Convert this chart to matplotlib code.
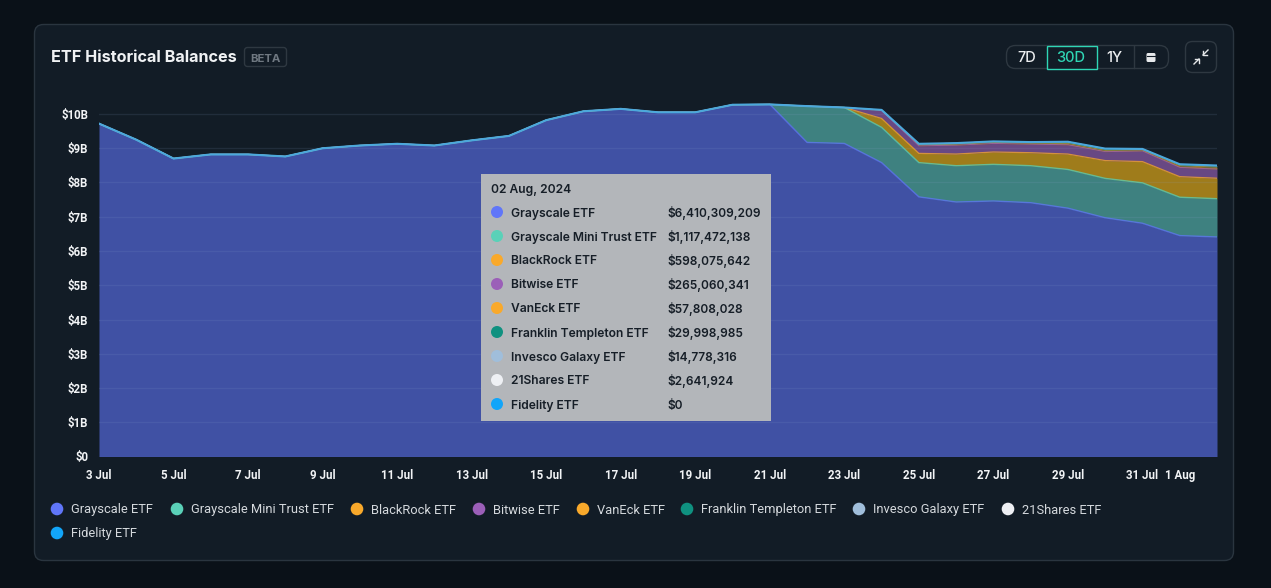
import matplotlib
matplotlib.use("Agg")
import matplotlib.pyplot as plt
import numpy as np
from matplotlib.patches import FancyBboxPatch, Rectangle, Circle

days = ["3 Jul","4 Jul","5 Jul","6 Jul","7 Jul","8 Jul","9 Jul","10 Jul","11 Jul","12 Jul","13 Jul","14 Jul","15 Jul","16 Jul","17 Jul","18 Jul","19 Jul","20 Jul","21 Jul","22 Jul","23 Jul","24 Jul","25 Jul","26 Jul","27 Jul","28 Jul","29 Jul","30 Jul","31 Jul","1 Aug","2 Aug"]
grayscale = [9.72,9.25,8.70,8.82,8.82,8.76,9.00,9.08,9.13,9.08,9.23,9.36,9.82,10.08,10.15,10.05,10.05,10.27,10.28,9.17,9.14,8.58,7.58,7.43,7.46,7.41,7.25,6.97,6.81,6.45,6.41]
mini = [0]*19 + [1.06,1.05,1.03,1.00,1.06,1.07,1.08,1.13,1.15,1.18,1.12,1.117]
blackrock = [0]*20 + [0.0,0.26,0.27,0.34,0.36,0.38,0.45,0.52,0.62,0.60,0.598]
bitwise = [0]*20 + [0.0,0.23,0.22,0.26,0.25,0.25,0.27,0.26,0.31,0.27,0.265]
vaneck = [0]*21 + [0.01,0.03,0.03,0.03,0.03,0.04,0.04,0.03,0.05,0.058]
franklin = [0]*21 + [0.01,0.02,0.02,0.02,0.02,0.03,0.03,0.02,0.03,0.030]
invesco = [0]*21 + [0.0,0.01,0.01,0.01,0.01,0.02,0.02,0.01,0.01,0.015]
shares21 = [0]*21 + [0.0,0.0,0.0,0.0,0.0,0.0,0.0,0.0,0.003,0.003]
fidelity = [0]*31
series_names = ["Grayscale ETF","Grayscale Mini Trust ETF","BlackRock ETF","Bitwise ETF","VanEck ETF","Franklin Templeton ETF","Invesco Galaxy ETF","21Shares ETF","Fidelity ETF"]
tooltip_values = ["$6,410,309,209","$1,117,472,138","$598,075,642","$265,060,341","$57,808,028","$29,998,985","$14,778,316","$2,641,924","$0"]
y_ticks = [0,1,2,3,4,5,6,7,8,9,10]
x_tick_labels = ["3 Jul","5 Jul","7 Jul","9 Jul","11 Jul","13 Jul","15 Jul","17 Jul","19 Jul","21 Jul","23 Jul","25 Jul","27 Jul","29 Jul","31 Jul","1 Aug"]

colors = ["#6076F9","#5AD1B8","#F9A92B","#9B5FB8","#F9A92B","#0F9180","#A0BEDB","#EEF0F4","#12A5F9"]
fill_colors = ["#6076F9","#5CC6BE","#FFBE14","#A266C2","#F9A92B","#0F9180","#A0BEDB","#EEF0F4","#12A5F9"]
W, H = 1271, 588
BG, CARD = "#0A1118", "#121C26"
fig = plt.figure(figsize=(W/100, H/100), dpi=100, facecolor=BG)

ui = fig.add_axes([0, 0, 1, 1], zorder=0)
ui.set_xlim(0, W); ui.set_ylim(H, 0); ui.axis("off")
ui.add_patch(FancyBboxPatch((34.5, 24.5), 1199, 536, boxstyle="round,pad=0,rounding_size=9", fc=CARD, ec="#2A353F", lw=1))

# plot axes
L, R, T, B = 99, 1217, 90, 456.5
ax = fig.add_axes([L/W, 1-B/H, (R-L)/W, (B-T)/H], zorder=1)
ax.patch.set_alpha(0)
x = np.arange(len(days))
data = np.array([grayscale, mini, blackrock, bitwise, vaneck, franklin, invesco, shares21, fidelity])
tops = np.cumsum(data, axis=0)
base = np.zeros(len(days))
for i, top in enumerate(tops):
    ax.fill_between(x, base, top, color=fill_colors[i], alpha=0.6, lw=0, zorder=2)
    base = top
line_widths = [1, 1, 0.9, 0.7, 0.5, 0.5, 0.5, 0.5]
for i, top in enumerate(tops[:-1]):
    ax.plot(x, top, color=colors[i], lw=line_widths[i], alpha=0.75, zorder=3)
ax.plot(x, tops[-1], color="#4BA8DC", lw=1.5, zorder=4)
ax.set_xlim(0, len(days)-1)
ax.set_ylim(0, (B-T)/34.25)
ax.set_yticks(y_ticks)
ax.set_yticklabels(["$0"]+[f"${v}B" for v in y_ticks[1:]])
ax.set_xticks([days.index(d) for d in x_tick_labels])
ax.set_xticklabels(x_tick_labels)
ax.tick_params(length=0, labelcolor="#F2F4F6", labelsize=8.3)
ax.tick_params(axis="y", pad=7.8)
ax.tick_params(axis="x", pad=9)
for lab in ax.get_xticklabels()+ax.get_yticklabels():
    lab.set_family("Roboto"); lab.set_fontweight("bold")
ax.grid(axis="y", color="#8CA6D0", alpha=0.13, lw=1, zorder=5)
ax.set_axisbelow(False)
for s in ax.spines.values():
    s.set_visible(False)

# overlay
ov = fig.add_axes([0, 0, 1, 1], zorder=2)
ov.set_xlim(0, W); ov.set_ylim(H, 0); ov.axis("off"); ov.patch.set_alpha(0)
F = "Inter"
ov.text(51, 62.5, "ETF Historical Balances", color="#F0F2F4", fontsize=11.65, fontweight="bold", family=F, va="baseline")
ov.add_patch(FancyBboxPatch((244.5, 47.5), 42, 19, boxstyle="round,pad=0,rounding_size=3", fc="none", ec="#2E3841", lw=1))
ov.text(265, 61.5, "BETA", color="#6F7881", fontsize=8.2, fontweight="bold", family=F, va="baseline", ha="center")

# range buttons
ov.add_patch(FancyBboxPatch((1006.5, 45.5), 162, 23, boxstyle="round,pad=0,rounding_size=9", fc="none", ec="#2E3841", lw=1))
ov.add_patch(Rectangle((1046.5, 45.5), 50, 23, fc=CARD, ec="#2FD6B5", lw=1))
ov.plot([1133.5, 1133.5], [46, 68], color="#2E3841", lw=1)
for tx, lab, col in [(1026.5, "7D", "#ECEEF0"), (1071, "30D", "#2FD6B5"), (1114.5, "1Y", "#ECEEF0")]:
    ov.text(tx, 62.5, lab, color=col, fontsize=10.5, family=F, fontweight="medium", ha="center", va="baseline")
ov.add_patch(FancyBboxPatch((1146.5, 53), 9, 9, boxstyle="round,pad=0,rounding_size=1.5", fc="#E8EAEC", ec="none"))
ov.plot([1147, 1155.5], [55.5, 55.5], color=CARD, lw=0.8)
ov.add_patch(FancyBboxPatch((1185.5, 41.5), 31, 31, boxstyle="round,pad=0,rounding_size=7", fc="none", ec="#2E3841", lw=1))
for (x0, y0, x1, y1, hx, hy) in [(1208, 50, 1203, 55, 1, 1), (1194, 64, 1199, 59, -1, -1)]:
    ov.plot([x0, x1], [y0, y1], color="#E4E6E8", lw=1)
    ov.plot([x1, x1, x1+hx*4], [y1-hy*4, y1, y1], color="#E4E6E8", lw=1)

# tooltip
ov.add_patch(Rectangle((481, 174), 290, 246.5, fc="#B6B9BB", ec="none", alpha=0.98))
TT = "#161E27"
ov.text(491, 192.5, "02 Aug, 2024", color=TT, fontsize=8.7, family=F, fontweight="semibold", va="baseline")
for i, (n, v) in enumerate(zip(series_names, tooltip_values)):
    y = 212 + 24*i
    ov.add_patch(Circle((497, y), 6, fc=colors[i], ec="none"))
    ov.text(511, y+4.5, n, color=TT, fontsize=8.7, family=F, fontweight="semibold", va="baseline")
    ov.text(667, y+4.5, v, color=TT, fontsize=8.55, family=F, fontweight="semibold", va="baseline")

# legend
leg_x = [57, 177, 357, 479, 583, 687, 859, 1008, 57]
leg_y = [509]*8 + [533]
for i, n in enumerate(series_names):
    ov.add_patch(Circle((leg_x[i], leg_y[i]), 6.3, fc=colors[i], ec="none"))
    ov.text(leg_x[i]+14, leg_y[i]+4.5, n, color="#D5D9DD", fontsize=9.3, family="Roboto", va="baseline")

fig.savefig("out.png", dpi=100, facecolor=BG)
